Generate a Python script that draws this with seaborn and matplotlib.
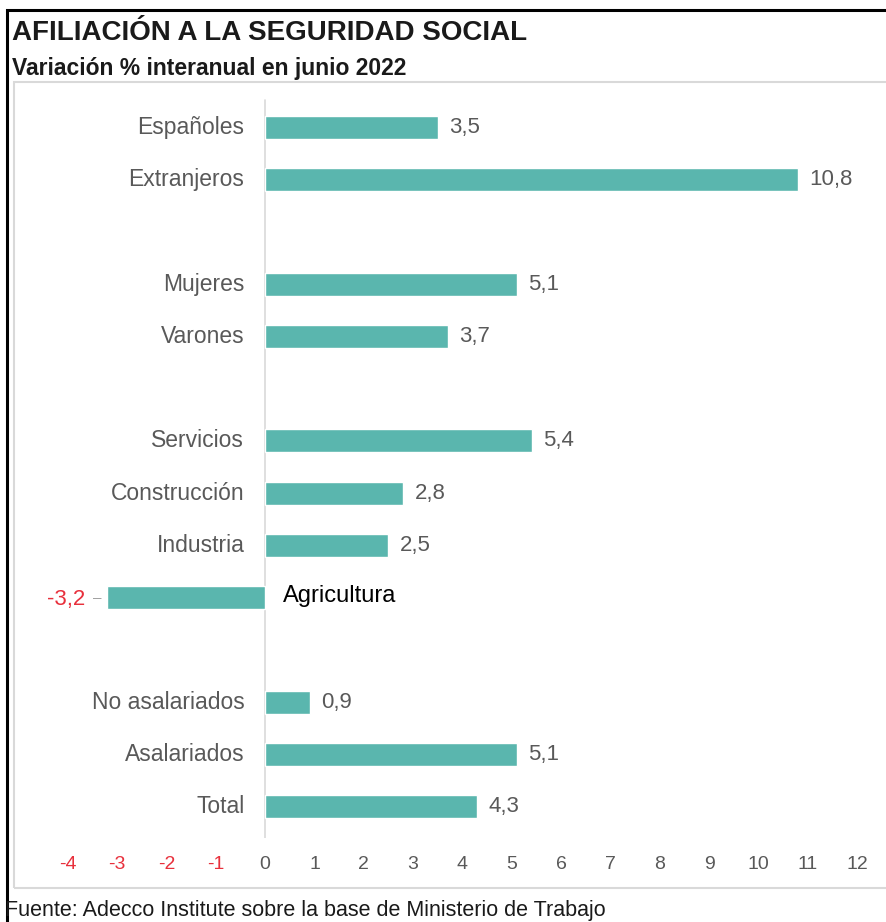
import matplotlib
matplotlib.use("Agg")
import matplotlib.pyplot as plt
import seaborn as sns
import pandas as pd
import numpy as np
from matplotlib.patches import Rectangle

# ---- data ----
group_nacionalidad = ["Españoles", "Extranjeros"]
vals_nacionalidad = [3.5, 10.8]
group_sexo = ["Mujeres", "Varones"]
vals_sexo = [5.1, 3.7]
group_sector = ["Servicios", "Construcción", "Industria", "Agricultura"]
vals_sector = [5.4, 2.8, 2.5, -3.2]
group_tipo = ["No asalariados", "Asalariados", "Total"]
vals_tipo = [0.9, 5.1, 4.3]
tick_values = list(range(-4, 13))

title = "AFILIACIÓN A LA SEGURIDAD SOCIAL"
subtitle = "Variación % interanual en junio 2022"
source = "Fuente: Adecco Institute sobre la base de Ministerio de Trabajo"

groups = [(group_nacionalidad, vals_nacionalidad), (group_sexo, vals_sexo),
          (group_sector, vals_sector), (group_tipo, vals_tipo)]
rows = []
pos = 0
for names, vals in groups:
    for n, v in zip(names, vals):
        rows.append({"cat": n, "val": v, "pos": pos})
        pos += 1
    pos += 1
df = pd.DataFrame(rows)

sns.set_theme(style="white")
plt.rcParams['font.family'] = ['Liberation Sans', 'DejaVu Sans']

TEAL = "#5ab6ae"
GRAY = "#595959"
RED = "#e8303c"

W, H = 887, 922
fig = plt.figure(figsize=(W / 100, H / 100), dpi=100)

# frames
fig.add_artist(Rectangle((7 / W, -0.1), 1.2, 1 - 10 / H + 0.1, transform=fig.transFigure,
                         fill=False, edgecolor="black", linewidth=2.2))
fig.add_artist(Rectangle((14 / W, 1 - 888 / H), 1.2, (888 - 82) / H, transform=fig.transFigure,
                         fill=False, edgecolor="#d9d9d9", linewidth=1.5))

# axes: x data -4.4..12.4 maps to px 48..877 ; y rows
x0, x1 = 48, 877
y_top, y_bot = 96, 838
ax = fig.add_axes([x0 / W, 1 - y_bot / H, (x1 - x0) / W, (y_bot - y_top) / H])

sns.barplot(data=df, x="val", y="pos", orient="h", native_scale=True,
            color=TEAL, width=0.44, ax=ax, saturation=1)
ax.set_xlim(-4.4, 12.4)
ax.set_ylim(13.6, -0.6)
for s in ax.spines.values():
    s.set_visible(False)
ax.axvline(0, color="#d9d9d9", linewidth=1.2, ymin=0.0, ymax=0.995, zorder=0)
ax.set_yticks([])
ax.set_ylabel("")
ax.set_xlabel("")
ax.set_xticks(tick_values)
ax.set_xticklabels([str(t) for t in tick_values], fontsize=14)
ax.tick_params(axis="x", length=0, pad=13)
for t, lab in zip(tick_values, ax.get_xticklabels()):
    lab.set_color(RED if t < 0 else GRAY)

for _, r in df.iterrows():
    v, p, c = r["val"], r["pos"], r["cat"]
    if v >= 0:
        ax.annotate(c, (0, p), xytext=(-15, 0), textcoords="offset points",
                    ha="right", va="center", fontsize=16.5, color=GRAY)
        ax.annotate(f"{v:.1f}".replace(".", ","), (v, p), xytext=(8, 0),
                    textcoords="offset points", ha="left", va="center",
                    fontsize=16, color=GRAY)
    else:
        ax.annotate(c, (0, p), xytext=(13, 1), textcoords="offset points",
                    ha="left", va="center", fontsize=17, color="black")
        ax.annotate(f"{v:.1f}".replace(".", ","), (v, p), xytext=(-16, -1),
                    textcoords="offset points", ha="right", va="center",
                    fontsize=16, color=RED)
        ax.annotate("–", (v, p), xytext=(-4, 0), textcoords="offset points",
                    ha="right", va="center", fontsize=11, color="#a0a0a0")

fig.text(12 / W, 1 - 33 / H, title, fontsize=20, fontweight="bold",
         color="#1a1a1a", va="center", ha="left")
fig.text(12 / W, 1 - 68 / H, subtitle, fontsize=16.5, fontweight="bold",
         color="#1a1a1a", va="center", ha="left")
fig.text(5 / W, 1 - 910 / H, source, fontsize=15.5, color="#1a1a1a", va="center", ha="left")

fig.savefig("out.png", dpi=100)
